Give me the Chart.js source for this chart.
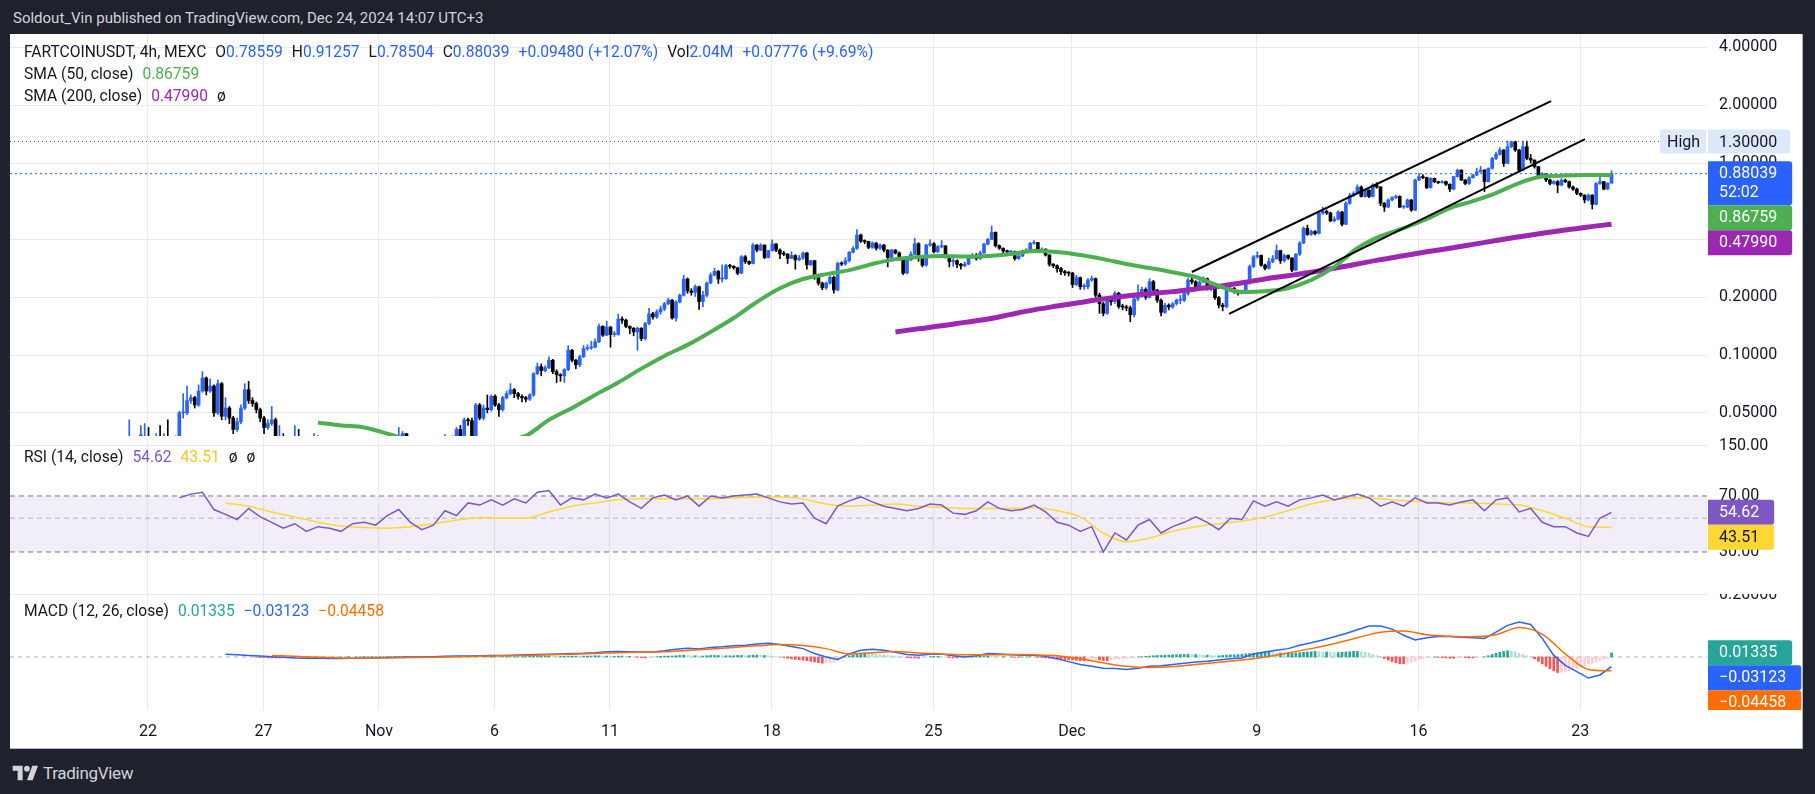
<!DOCTYPE html>
<html>
<head>
<meta charset="utf-8">
<script src="https://cdn.jsdelivr.net/npm/chart.js@4.4.1/dist/chart.umd.min.js"></script>
<style>
  html, body { margin: 0; padding: 0; width: 1815px; height: 794px; overflow: hidden; background: #1f222d; font-family: Roboto, "Noto Sans", sans-serif; }
  #panel { position: absolute; left: 10px; top: 34px; width: 1792px; height: 714px; background: #fff; border-right: 1px solid #b2b5be; border-bottom: 1px solid #b2b5be; }
  canvas { position: absolute; left: 10px; }
  .txt { position: absolute; white-space: pre; color: #131722; font-size: 15.6px; line-height: 18px; }
  .txt span { margin-left: 9px; }
  .txt i { font-style: normal; margin-left: 9px; }
  .blue { color: #2962ff; }
</style>
</head>
<body>
<div id="panel"></div>
<canvas id="price" width="1794" height="402" style="top:34px"></canvas>
<canvas id="rsi" width="1794" height="157" style="top:437px"></canvas>
<canvas id="macd" width="1794" height="156" style="top:594px"></canvas>

<div class="txt" style="left:13px;top:9px;color:#d1d4dc;font-size:15px;">Soldout_Vin published on TradingView.com, Dec 24, 2024 14:07 UTC+3</div>
<div class="txt" style="left:24px;top:43px;">FARTCOINUSDT, 4h, MEXC<span>O<b class="blue" style="font-weight:normal">0.78559</b></span><span>H<b class="blue" style="font-weight:normal">0.91257</b></span><span>L<b class="blue" style="font-weight:normal">0.78504</b></span><span>C<b class="blue" style="font-weight:normal">0.88039</b></span><span class="blue">+0.09480 (+12.07%)</span><span>Vol<b class="blue" style="font-weight:normal">2.04M</b></span><span class="blue">+0.07776 (+9.69%)</span></div>
<div class="txt" style="left:24px;top:65px;">SMA (50, close)<span style="color:#4caf50">0.86759</span></div>
<div class="txt" style="left:24px;top:87px;">SMA (200, close)<span style="color:#9c27b0">0.47990</span><i>ø</i></div>
<div class="txt" style="left:24px;top:448px;">RSI (14, close)<span style="color:#7e57c2">54.62</span><span style="color:#f7c81e">43.51</span><i>ø</i><i>ø</i></div>
<div class="txt" style="left:24px;top:602px;">MACD (12, 26, close)<span style="color:#26a69a">0.01335</span><span style="color:#2962ff">−0.03123</span><span style="color:#ff6d00">−0.04458</span></div>
<div style="position:absolute;left:12px;top:763px;display:flex;align-items:center;color:#d1d4dc;font-size:17px;">
  <svg width="27" height="20" viewBox="0 0 36 28"><path d="M14 24H7V11H0V4h14v20zM28 24h-8l7.5-20h8L28 24z" fill="#d1d4dc"/><circle cx="20" cy="8" r="4" fill="#d1d4dc"/></svg>
  <span style="margin-left:4px;letter-spacing:-0.3px">TradingView</span>
</div>

<script>
// ---- time axis (days from Oct 22, 00:00) ----
const timeTickDays = [0, 5, 10, 15, 20, 27, 34, 40, 48, 55, 62];
const timeTickLabels = ['22', '27', 'Nov', '6', '11', '18', '25', 'Dec', '9', '16', '23'];
const candleStart = -0.81;   // first 4h candle, Oct 21
const candleStep = 1 / 6;    // 4 hours
const xMin = -5.974, xMax = 67.49;

// ---- price candles (4h) ----
const firstOpen = 0.030;
const closes = [
  .034,.032,.031,.031,.035,.032,.031,.034,.031,.037,
  .033,.032,.034,.050,.050,.058,.060,.055,.065,.076,
  .065,.069,.050,.071,.048,.053,.047,.041,.045,.053,
  .066,.058,.056,.052,.047,.042,.044,.046,.036,.037,
  .035,.034,.033,.036,.034,.032,.031,.030,.033,.032,
  .031,.030,.029,.030,.028,.027,.028,.029,.027,.026,
  .027,.028,.029,.030,.029,.031,.032,.033,.032,.034,
  .036,.039,.036,.034,.033,.032,.033,.034,.033,.034,
  .035,.034,.036,.035,.036,.041,.037,.046,.0455,.037,
  .055,.047,.053,.052,.061,.055,.052,.060,.063,.066,
  .063,.061,.060,.059,.062,.080,.087,.083,.086,.094,
  .082,.079,.078,.084,.106,.094,.089,.098,.108,.109,
  .110,.117,.141,.127,.140,.128,.128,.154,.152,.141,
  .138,.132,.138,.122,.146,.164,.158,.168,.174,.185,
  .193,.156,.189,.205,.249,.216,.212,.227,.190,.205,
  .237,.261,.273,.249,.250,.292,.290,.285,.267,.325,
  .307,.300,.374,.352,.374,.322,.350,.379,.352,.336,
  .335,.319,.330,.313,.320,.340,.295,.310,.253,.237,
  .224,.237,.254,.218,.300,.298,.310,.343,.359,.422,
  .392,.390,.364,.383,.360,.374,.352,.322,.352,.340,
  .318,.267,.313,.335,.380,.318,.294,.374,.380,.345,
  .367,.370,.325,.307,.310,.297,.292,.298,.322,.330,
  .318,.340,.378,.400,.435,.371,.360,.348,.345,.345,
  .318,.328,.348,.350,.382,.385,.352,.356,.332,.297,
  .292,.282,.272,.268,.267,.233,.253,.227,.227,.246,
  .250,.205,.185,.165,.193,.190,.210,.179,.178,.176,
  .162,.196,.210,.220,.200,.241,.218,.193,.167,.182,
  .178,.185,.193,.193,.209,.246,.241,.227,.240,.250,
  .222,.222,.199,.182,.179,.218,.222,.215,.210,.215,
  .236,.289,.325,.330,.294,.283,.307,.318,.350,.310,
  .330,.320,.277,.335,.383,.457,.425,.440,.430,.548,
  .560,.550,.500,.510,.556,.480,.617,.680,.695,.750,
  .670,.723,.670,.768,.750,.617,.590,.642,.660,.670,
  .590,.590,.642,.569,.816,.850,.840,.744,.832,.800,
  .790,.800,.775,.732,.850,.919,.816,.783,.839,.866,
  .900,.919,.800,.938,1.058,1.110,1.169,.996,1.216,1.290,
  1.169,.919,1.216,1.058,1.036,.957,.859,.880,.816,.783,
  .800,.768,.816,.800,.750,.732,.695,.680,.642,.680,
  .610,.783,.800,.732,.78559,.88039
];
const highs = [
  .046,.036,.035,.043,.044,.042,.034,.039,.043,.039,
  .046,.036,.038,.051,.063,.069,.062,.061,.070,.082,
  .077,.075,.070,.074,.072,.060,.054,.048,.047,.055,
  .071,.073,.060,.057,.053,.048,.046,.054,.047,.043,
  .039,.037,.036,.043,.041,.036,.034,.033,.039,.038,
  .033,.032,.031,.031,.031,.029,.030,.031,.030,.028,
  .029,.030,.031,.032,.031,.033,.034,.035,.034,.036,
  .042,.040,.039,.037,.035,.034,.035,.036,.035,.036,
  .037,.036,.0385,.037,.038,.042,.043,.047,.047,.047,
  .056,.056,.055,.062,.062,.062,.056,.061,.065,.071,
  .067,.064,.062,.061,.063,.081,.091,.090,.088,.098,
  .095,.084,.080,.085,.112,.107,.095,.100,.112,.113,
  .118,.121,.145,.142,.150,.141,.133,.163,.158,.154,
  .142,.139,.140,.139,.148,.175,.167,.172,.180,.188,
  .198,.195,.192,.208,.260,.252,.222,.232,.229,.215,
  .240,.268,.283,.276,.295,.297,.297,.292,.287,.330,
  .330,.310,.381,.376,.380,.375,.352,.398,.381,.357,
  .347,.338,.345,.333,.330,.344,.343,.312,.312,.258,
  .240,.240,.258,.258,.305,.306,.322,.346,.367,.450,
  .427,.398,.392,.388,.386,.380,.377,.354,.356,.355,
  .345,.320,.316,.345,.405,.385,.320,.378,.398,.385,
  .372,.395,.372,.330,.318,.313,.300,.305,.330,.338,
  .338,.348,.382,.405,.470,.438,.375,.362,.352,.350,
  .348,.332,.352,.358,.386,.395,.386,.362,.358,.334,
  .300,.295,.286,.276,.272,.270,.260,.255,.235,.250,
  .258,.252,.210,.188,.197,.200,.214,.212,.184,.182,
  .180,.200,.232,.226,.224,.250,.245,.220,.196,.186,
  .185,.188,.196,.205,.213,.252,.262,.244,.244,.256,
  .252,.228,.224,.202,.186,.222,.230,.225,.218,.218,
  .240,.295,.330,.345,.332,.298,.320,.330,.375,.352,
  .336,.333,.322,.338,.390,.465,.475,.448,.445,.552,
  .590,.570,.555,.525,.565,.560,.630,.695,.710,.770,
  .760,.730,.725,.780,.790,.755,.625,.650,.668,.680,
  .675,.600,.650,.646,.825,.880,.870,.845,.840,.835,
  .805,.810,.805,.780,.855,.930,.922,.820,.850,.875,
  .940,.960,.925,.945,1.07,1.14,1.20,1.175,1.30,1.30,
  1.30,1.18,1.30,1.30,1.11,1.04,.960,.890,.885,.825,
  .810,.810,.830,.825,.805,.760,.740,.700,.685,.690,
  .685,.790,.880,.800,.790,.91257
];
const lows = [
  .028,.029,.029,.029,.030,.031,.029,.030,.030,.030,
  .032,.031,.031,.033,.047,.049,.056,.053,.054,.064,
  .062,.064,.048,.049,.046,.046,.044,.039,.040,.044,
  .052,.056,.054,.050,.045,.039,.041,.043,.034,.033,
  .033,.032,.031,.032,.033,.030,.029,.028,.029,.030,
  .029,.028,.027,.028,.026,.025,.026,.027,.025,.024,
  .025,.026,.027,.028,.027,.028,.030,.031,.030,.031,
  .033,.035,.035,.033,.031,.030,.031,.032,.031,.032,
  .033,.032,.033,.034,.034,.035,.036,.036,.043,.036,
  .036,.046,.046,.050,.051,.054,.048,.051,.059,.062,
  .060,.059,.057,.057,.058,.061,.079,.078,.082,.085,
  .080,.072,.073,.072,.083,.092,.085,.087,.097,.106,
  .107,.109,.116,.125,.126,.110,.125,.127,.146,.139,
  .129,.126,.106,.119,.120,.144,.154,.155,.163,.170,
  .183,.154,.150,.187,.203,.210,.205,.202,.173,.178,
  .201,.235,.258,.236,.240,.248,.283,.280,.262,.265,
  .300,.296,.298,.345,.350,.318,.320,.348,.346,.318,
  .329,.300,.318,.280,.310,.315,.280,.293,.248,.231,
  .219,.220,.234,.210,.216,.292,.294,.305,.340,.355,
  .386,.380,.358,.360,.352,.355,.345,.288,.318,.336,
  .312,.262,.265,.310,.332,.308,.288,.290,.368,.340,
  .342,.362,.320,.288,.290,.285,.280,.288,.295,.318,
  .312,.315,.338,.375,.400,.365,.355,.340,.338,.338,
  .312,.315,.325,.343,.348,.378,.346,.348,.328,.290,
  .285,.270,.262,.260,.258,.225,.230,.220,.220,.222,
  .242,.200,.165,.160,.163,.182,.186,.175,.172,.170,
  .149,.158,.192,.200,.195,.198,.212,.188,.160,.165,
  .172,.175,.182,.185,.190,.205,.235,.222,.225,.238,
  .218,.216,.195,.176,.170,.176,.215,.210,.205,.208,
  .212,.234,.285,.320,.290,.278,.280,.302,.315,.300,
  .305,.315,.272,.275,.330,.380,.420,.420,.422,.428,
  .540,.540,.495,.495,.505,.470,.478,.610,.670,.690,
  .665,.665,.660,.665,.740,.600,.560,.585,.635,.655,
  .585,.580,.585,.560,.565,.810,.830,.735,.740,.790,
  .780,.785,.765,.710,.725,.845,.810,.770,.775,.835,
  .860,.895,.710,.795,.930,1.04,1.10,.960,.990,1.20,
  1.15,.900,.910,1.04,1.00,.940,.840,.850,.800,.770,
  .775,.700,.760,.790,.740,.720,.685,.670,.620,.635,
  .576,.605,.775,.725,.728,.78504
];

// ---- moving averages (read every 6 candles) ----
const sma50First = 49;
const sma50 = [
  .0445,.043,.042,.039,.036,.034,.034,.035,.036,.038,
  .046,.053,.062,.072,.085,.099,.113,.132,.156,.189,
  .223,.249,.264,.277,.298,.316,.324,.328,.326,.328,
  .336,.348,.344,.332,.316,.298,.284,.270,.255,.229,
  .213,.215,.223,.246,.288,.360,.416,.458,.511,.583,
  .634,.698,.787,.850,.861,.866,.86759
];
const sma200First = 199;
const sma200 = [
  .132,.137,.142,.148,.154,.163,.172,.180,.188,.196,
  .203,.209,.214,.221,.228,.238,.249,.259,.270,.283,
  .298,.314,.329,.345,.360,.377,.395,.413,.431,.448,
  .465,.4799
];

// ---- drawn trend channel (day, price) ----
const trendUpper = [{ x: 45.19, y: 0.2707 }, { x: 60.74, y: 2.10 }];
const trendLower = [{ x: 46.80, y: 0.1637 }, { x: 62.21, y: 1.333 }];

// ---- RSI 14 (every 3 candles) and its MA (every 6 candles) ----
const rsiFirst = 13;
const rsi = [
  68,72,74,57,53,49,58,51,47,43,46,41,44,43,41,46,47,45,52,57,
  47,42,45,56,52,63,61,66,61,67,63,74,76,61,68,66,72,
  68,72,64,58,68,71,66,70,60,70,68,70,71,72,68,64,62,63,50,46,
  60,65,69,64,60,58,56,58,62,61,54,53,56,64,58,56,57,61,55,47,
  45,41,44,30,40,36,45,49,40,44,47,51,47,42,50,49,65,60,64,60,
  66,68,71,66,69,72,68,60,64,60,68,63,63,61,64,66,56,66,68,55,
  58,47,44,44,40,38,50,54.62
];
const rsiMaFirst = 25;
const rsiMa = [
  63,60,55,51,47,44.5,43.5,43,44,46,48.5,50.5,50,50,55,60,63,66,67,67,
  67,67,68,69,69,67,62,60,61,62,60,59,58,58,58,58.5,56,51,40,35,
  37,41,44,46,48,51,56,62,66,68,67,65,64,63,63,62,61,56,50,44,43.51
];
const rsiBands = [70, 50, 30];

// ---- MACD 12/26 (every 3 candles), signal (every 6), histogram (every candle) ----
const macdFirst = 25;
const macd = [
  .009,.007,.005,.003,.001,-.001,-.003,-.004,-.004,-.005,
  -.005,-.004,-.004,-.003,-.002,-.001,0,0,.001,.002,
  .003,.003,.004,.005,.005,.006,.007,.008,.009,.010,
  .011,.012,.014,.017,.018,.017,.016,.016,.020,.025,
  .028,.026,.031,.033,.036,.038,.042,.044,.040,.034,
  .027,.011,0,-.008,.010,.022,.025,.022,.015,.008,
  .006,.009,.010,.004,0,.004,.011,.010,.007,.006,
  .006,.002,-.006,-.015,-.024,-.030,-.036,-.037,-.040,-.036,
  -.030,-.028,-.024,-.020,-.016,-.014,-.010,-.006,-.003,.010,
  .016,.022,.027,.038,.046,.055,.065,.076,.088,.100,
  .100,.090,.070,.055,.062,.066,.066,.064,.062,.060,
  .080,.102,.113,.105,.060,.005,-.027,-.047,-.068,-.058,
  -.03123
];
const signalFirst = 37;
const signal = [
  .005,.002,-.001,-.003,-.004,-.003,-.002,-.001,.001,.002,
  .004,.005,.007,.009,.011,.014,.016,.017,.021,.026,
  .031,.036,.040,.037,.027,.010,.014,.018,.013,.010,
  .007,.007,.008,.007,.004,-.006,-.019,-.030,-.034,-.031,
  -.024,-.017,-.010,.000,.013,.027,.043,.062,.080,.084,
  .072,.067,.065,.072,.095,.074,.010,-.040,-.04458
];
const histFirst = 33;
const hist = [
  -.001,-.002,-.002,-.003,-.003,-.003,-.003,-.002,-.002,-.002,-.002,-.001,
  -.001,-.001,-.001,-.001,-.001,-.001,-.001,.000,-.001,.000,.000,.000,.001,.000,.000,.001,.001,.001,.001,.001,.001,.001,.001,.001,.001,
  .001,.001,.001,.001,.001,.001,.001,.001,.001,.001,.001,.001,.001,.001,.001,.001,.002,.001,.001,.002,.002,.001,.001,.002,.002,.002,.001,.001,.001,.001,.001,.001,.001,.001,.002,
  .003,.003,.003,.003,.004,.003,.002,.002,.002,.003,.003,.003,.002,.003,.003,.003,.004,.004,.003,.003,.002,.002,.003,.003,.002,.002,.001,-.001,-.002,-.003,-.002,-.001,.001,.002,.003,
  .003,.003,.004,.005,.006,.005,.004,.004,.003,.003,.004,.005,.005,.005,.004,.004,.004,.004,.005,.005,.004,.005,.006,.006,.005,.005,.004,.003,.002,
  .000,-.002,-.004,-.006,-.008,-.009,-.010,-.012,-.014,-.016,-.018,-.020,-.019,-.018,-.017,-.012,
  -.006,.000,.004,.007,.010,.012,.013,.012,.011,.010,.008,.007,.005,.004,.002,
  .001,.000,-.002,-.003,-.003,-.004,-.002,-.001,.001,.002,.002,.001,.000,-.002,-.003,-.003,-.002,-.001,.000,.001,
  .002,.003,.004,.004,.003,.002,.001,.001,.000,.000,-.001,-.001,.000,.000,.001,.000,-.001,-.002,-.003,-.004,
  -.005,-.006,-.007,-.008,-.009,-.010,-.011,-.012,-.012,-.011,-.010,-.009,-.010,-.011,-.012,-.010,-.008,-.007,-.006,-.005,-.004,-.002,.000,
  .001,.002,.003,.004,.005,.005,.006,.006,.007,.007,.008,.008,.009,.008,.008,.007,.006,.006,.005,.004,.004,.005,.006,.007,.007,.008,.009,.010,.011,
  .012,.013,.014,.015,.015,.014,.013,.013,.012,.012,.013,.013,.014,.015,.016,.017,.018,.017,.016,.016,.015,.014,.014,.015,.016,.017,.018,.018,.017,.015,.012,.008,.004,
  .000,-.005,-.010,-.015,-.019,-.022,-.022,-.020,-.017,-.013,-.009,-.006,-.003,-.001,.000,
  -.001,-.002,-.003,-.004,-.004,-.003,-.002,-.002,-.003,-.003,-.002,-.001,.000,
  .004,.008,.012,.015,.018,.020,.019,.016,.012,.008,.004,.000,-.006,
  -.014,-.022,-.030,-.038,-.045,-.050,-.049,-.047,-.044,-.040,-.036,-.032,-.028,-.024,-.020,-.016,-.012,-.008,-.004,
  .01335
];

// ---- axis ticks ----
const priceTicks = [4, 2, 1, 0.4, 0.2, 0.1, 0.05];
const rsiTicks = [150, 70, 30];
const macdTicks = [0.2];

// ---- style ----
const upColor = '#2962ff', downColor = '#000000';
const gridColor = '#e9eaee';
const textColor = '#131722';
const axisFont = { family: 'Roboto', size: 16 };

const dayOf = i => candleStart + i * candleStep;
const sampled = (vals, first, step) => vals.map((v, k) => ({ x: dayOf(first + k * step), y: v }));
const flat = v => [{ x: xMin, y: v }, { x: xMax, y: v }];

const opens = [firstOpen].concat(closes.slice(0, -1));
const candleColors = closes.map((c, i) => c >= opens[i] ? upColor : downColor);
const bodyData = closes.map((c, i) => ({ x: dayOf(i), y: [opens[i], c] }));
const wickData = closes.map((c, i) => ({ x: dayOf(i), y: [Math.min(lows[i], opens[i], c), Math.max(highs[i], opens[i], c)] }));
const lastClose = closes[closes.length - 1];
const highValue = Math.max(...highs);

function xScale(showTicks) {
  return {
    type: 'linear', min: xMin, max: xMax, offset: false, bounds: 'data',
    afterBuildTicks: s => { s.ticks = timeTickDays.map(v => ({ value: v })); },
    afterFit: s => { s.height = showTicks ? 40 : 0; s.paddingLeft = 0; s.paddingRight = 0; },
    grid: { color: gridColor, drawTicks: false, offset: false },
    border: { display: false },
    ticks: { display: showTicks, padding: 12, color: textColor, font: axisFont, maxRotation: 0, autoSkip: false,
             callback: (v, i) => timeTickLabels[i] }
  };
}
function yScale(type, min, max, ticks, fmt, gridFilter) {
  return {
    type, position: 'right', min, max, bounds: 'data',
    afterBuildTicks: s => { s.ticks = ticks.map(v => ({ value: v })); },
    afterFit: s => { s.width = 97; s.paddingTop = 0; s.paddingBottom = 0; },
    grid: { drawTicks: false, color: c => (!gridFilter || gridFilter(c.tick && c.tick.value)) ? gridColor : 'rgba(0,0,0,0)' },
    border: { display: false },
    ticks: { padding: 12, color: textColor, font: axisFont, autoSkip: false, callback: v => fmt(v) }
  };
}

// price labels on the right axis
const tagPlugin = {
  id: 'tags',
  afterDraw(chart, args, opts) {
    const { ctx, chartArea } = chart;
    const scale = chart.scales.y;
    ctx.save();
    ctx.beginPath();
    ctx.rect(0, chartArea.top, chart.width, chartArea.bottom - chartArea.top);
    ctx.clip();
    ctx.font = '16px Roboto';
    ctx.textBaseline = 'middle';
    const x = chartArea.right + 1;
    if (opts.high) {
      const y = Math.round(scale.getPixelForValue(opts.high.value)) + 0.5;
      ctx.strokeStyle = '#50535e';
      ctx.lineWidth = 1;
      ctx.setLineDash([1, 3]);
      ctx.beginPath(); ctx.moveTo(chartArea.left, y); ctx.lineTo(chartArea.right - 47, y); ctx.stroke();
      ctx.setLineDash([]);
      ctx.fillStyle = '#dde9fa';
      ctx.beginPath(); ctx.roundRect(chartArea.right - 47, y - 12, 46, 24, [3, 0, 0, 3]); ctx.fill();
      const w = ctx.measureText(opts.high.text).width + 24;
      ctx.beginPath(); ctx.roundRect(x, y - 12, w, 24, [0, 3, 3, 0]); ctx.fill();
      ctx.fillStyle = textColor;
      ctx.fillText('High', chartArea.right - 40, y + 1);
      ctx.fillText(opts.high.text, x + 11, y + 1);
    }
    let prevBottom = -Infinity;
    (opts.list || []).forEach(t => {
      const h = 25 + (t.lines.length - 1) * 19;
      const top = Math.max(scale.getPixelForValue(t.value) - 12.5, prevBottom);
      const w = Math.max(...t.lines.map(l => ctx.measureText(l).width)) + 26;
      ctx.fillStyle = t.bg;
      ctx.beginPath(); ctx.roundRect(x, top, w, h, [0, 3, 3, 0]); ctx.fill();
      ctx.fillStyle = t.fg || '#ffffff';
      t.lines.forEach((l, j) => ctx.fillText(l, x + 11, top + 13 + j * 19));
      prevBottom = top + h;
    });
    ctx.restore();
  }
};

const common = { responsive: false, animation: false, events: [], devicePixelRatio: 1, layout: { padding: 0 } };
const line = (data, color, width, extra) => Object.assign({ type: 'line', data, borderColor: color, borderWidth: width, pointRadius: 0, fill: false }, extra || {});

new Chart(document.getElementById('price'), {
  type: 'bar',
  data: { datasets: [
    line(trendUpper, '#000000', 2, { order: 1 }),
    line(trendLower, '#000000', 2, { order: 1 }),
    line(sampled(sma50, sma50First, 6), '#4caf50', 4, { order: 2, cubicInterpolationMode: 'monotone' }),
    line(sampled(sma200, sma200First, 6), '#9c27b0', 5, { order: 2, cubicInterpolationMode: 'monotone' }),
    line(flat(lastClose), '#2962ff', 1, { order: 3, borderDash: [2, 3] }),
    { type: 'bar', data: bodyData, backgroundColor: candleColors, barThickness: 3, grouped: false, minBarLength: 1, order: 4 },
    { type: 'bar', data: wickData, backgroundColor: candleColors, barThickness: 1, grouped: false, order: 5 }
  ]},
  options: Object.assign({}, common, {
    scales: {
      x: xScale(false),
      y: yScale('logarithmic', 0.0379, 4.698, priceTicks, v => v.toFixed(5))
    },
    plugins: { legend: { display: false }, tooltip: { enabled: false },
      tags: {
        high: { value: highValue, text: highValue.toFixed(5) },
        list: [
          { value: lastClose, bg: '#2962ff', lines: [lastClose.toFixed(5), '52:02'] },
          { value: sma50[sma50.length - 1], bg: '#4caf50', lines: [sma50[sma50.length - 1].toFixed(5)] },
          { value: sma200[sma200.length - 1], bg: '#9c27b0', lines: [sma200[sma200.length - 1].toFixed(5)] }
        ]
      }
    }
  }),
  plugins: [tagPlugin]
});

new Chart(document.getElementById('rsi'), {
  type: 'line',
  data: { datasets: [
    line(sampled(rsi, rsiFirst, 3), '#7e57c2', 1.5, { order: 1 }),
    line(sampled(rsiMa, rsiMaFirst, 6), '#fdd835', 1.5, { order: 2, cubicInterpolationMode: 'monotone' }),
    line(flat(rsiBands[0]), '#787b86', 1, { order: 5, borderDash: [5, 4], fill: '+1', backgroundColor: 'rgba(126,87,194,0.1)' }),
    line(flat(rsiBands[2]), '#787b86', 1, { order: 5, borderDash: [5, 4] }),
    line(flat(rsiBands[1]), 'rgba(120,123,134,0.5)', 1, { order: 5, borderDash: [5, 4] })
  ]},
  options: Object.assign({}, common, {
    scales: {
      x: xScale(false),
      y: yScale('logarithmic', 15.89, 170.8, rsiTicks, v => v.toFixed(2), v => v === 150)
    },
    plugins: { legend: { display: false }, tooltip: { enabled: false },
      tags: { list: [
        { value: rsi[rsi.length - 1], bg: '#7e57c2', lines: [rsi[rsi.length - 1].toFixed(2)] },
        { value: rsiMa[rsiMa.length - 1], bg: '#fdd835', fg: textColor, lines: [rsiMa[rsiMa.length - 1].toFixed(2)] }
      ]}
    }
  }),
  plugins: [tagPlugin]
});

const histColors = hist.map((v, k) => {
  const p = k ? hist[k - 1] : 0;
  return v >= 0 ? (v >= p ? '#26a69a' : '#b2dfdb') : (v <= p ? '#ff5252' : '#ffcdd2');
});
const fmtSigned = v => (v < 0 ? '−' : '') + Math.abs(v).toFixed(5);

new Chart(document.getElementById('macd'), {
  type: 'bar',
  data: { datasets: [
    line(sampled(signal, signalFirst, 6), '#ff6d00', 1.5, { order: 1, cubicInterpolationMode: 'monotone' }),
    line(sampled(macd, macdFirst, 3), '#2962ff', 1.5, { order: 2 }),
    { type: 'bar', data: hist.map((v, k) => ({ x: dayOf(histFirst + k), y: v })), backgroundColor: histColors, barThickness: 2, grouped: false, order: 3 },
    line(flat(0), 'rgba(120,123,134,0.6)', 1, { order: 4, borderDash: [4, 4] })
  ]},
  options: Object.assign({}, common, {
    scales: {
      x: xScale(true),
      y: yScale('linear', -0.171, 0.2032, macdTicks, v => v.toFixed(5))
    },
    plugins: { legend: { display: false }, tooltip: { enabled: false },
      tags: { list: [
        { value: hist[hist.length - 1], bg: '#26a69a', lines: [fmtSigned(hist[hist.length - 1])] },
        { value: macd[macd.length - 1], bg: '#2962ff', lines: [fmtSigned(macd[macd.length - 1])] },
        { value: signal[signal.length - 1], bg: '#ff6d00', lines: [fmtSigned(signal[signal.length - 1])] }
      ]}
    }
  }),
  plugins: [tagPlugin]
});
</script>
</body>
</html>
